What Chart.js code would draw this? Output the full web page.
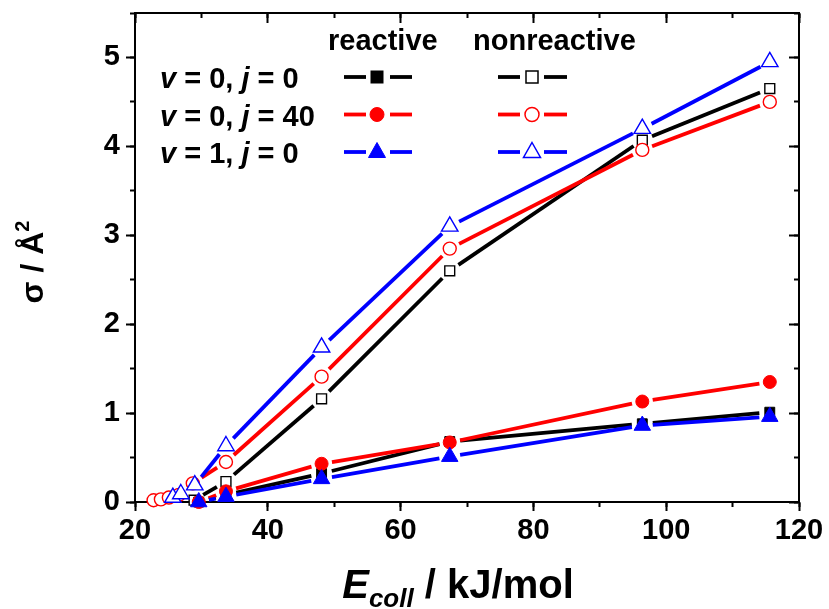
<!DOCTYPE html>
<html><head><meta charset="utf-8">
<script src="https://cdn.jsdelivr.net/npm/chart.js@4"></script>
<style>
html,body{margin:0;padding:0;background:#fff;}
#wrap{position:relative;width:829px;height:609px;overflow:hidden;background:#fff;}
#c{position:absolute;left:0;top:0;}
#ov{position:absolute;left:0;top:0;}
#ov text{font-family:"Liberation Sans",Arial,sans-serif;font-weight:bold;fill:#000;}
</style></head><body>
<div id="wrap">
<canvas id="c" width="829" height="609"></canvas>
<svg id="ov" width="829" height="609" xmlns="http://www.w3.org/2000/svg">
  <!-- legend -->
  <text x="328" y="50" font-size="29">reactive</text>
  <text x="473" y="50" font-size="29">nonreactive</text>
  <text x="160" y="88" font-size="29"><tspan font-style="italic">v</tspan> = 0, <tspan font-style="italic">j</tspan> = 0</text>
  <text x="160" y="125.5" font-size="29"><tspan font-style="italic">v</tspan> = 0, <tspan font-style="italic">j</tspan> = 40</text>
  <text x="160" y="163" font-size="29"><tspan font-style="italic">v</tspan> = 1, <tspan font-style="italic">j</tspan> = 0</text>
  <g stroke-width="3.8" fill="none">
    <line x1="344" y1="77" x2="366" y2="77" stroke="#000"/><line x1="390" y1="77" x2="412" y2="77" stroke="#000"/>
    <rect x="371" y="71" width="12" height="12" fill="#000" stroke="#000" stroke-width="1"/>
    <line x1="498" y1="77" x2="520" y2="77" stroke="#000"/><line x1="544" y1="77" x2="567" y2="77" stroke="#000"/>
    <rect x="526" y="71" width="12" height="12" fill="#fff" stroke="#000" stroke-width="1.5"/>
    <line x1="344" y1="114.5" x2="366" y2="114.5" stroke="#f00"/><line x1="390" y1="114.5" x2="412" y2="114.5" stroke="#f00"/>
    <circle cx="377" cy="114.5" r="7" fill="#f00" stroke="#f00" stroke-width="1"/>
    <line x1="498" y1="114.5" x2="520" y2="114.5" stroke="#f00"/><line x1="544" y1="114.5" x2="567" y2="114.5" stroke="#f00"/>
    <circle cx="532" cy="114.5" r="7" fill="#fff" stroke="#f00" stroke-width="1.5"/>
    <line x1="344" y1="152" x2="366" y2="152" stroke="#00f"/><line x1="390" y1="152" x2="412" y2="152" stroke="#00f"/>
    <polygon points="377,142.5 385.5,157.5 368.5,157.5" fill="#00f" stroke="#00f" stroke-width="1"/>
    <line x1="498" y1="152" x2="520" y2="152" stroke="#00f"/><line x1="544" y1="152" x2="567" y2="152" stroke="#00f"/>
    <polygon points="532,142.5 540.5,157.5 523.5,157.5" fill="#fff" stroke="#00f" stroke-width="1.5"/>
  </g>
  <!-- axis titles -->
  <text x="458" y="598" font-size="40" text-anchor="middle"><tspan font-style="italic">E</tspan><tspan font-style="italic" font-size="26" dy="9">coll</tspan><tspan dy="-9"> / kJ/mol</tspan></text>
  <text transform="translate(43,262) rotate(-90)" font-size="32" text-anchor="middle">σ / Å<tspan font-size="20" dy="-14">2</tspan></text>
</svg>
</div>
<script>
// ---- data ----
const xTickLabels = [20, 40, 60, 80, 100, 120];
const yTickLabels = [0, 1, 2, 3, 4, 5];

// reactive (filled symbols)
const reactV0J0_E  = [29.6, 33.7, 48.1, 67.4, 96.4, 115.6];
const reactV0J0_s  = [0.00, 0.08, 0.32, 0.68, 0.88, 1.01];
const reactV0J40_E = [29.6, 33.7, 48.1, 67.4, 96.4, 115.6];
const reactV0J40_s = [0.00, 0.12, 0.43, 0.67, 1.13, 1.35];
const reactV1J0_E  = [29.6, 33.7, 48.1, 67.4, 96.4, 115.6];
const reactV1J0_s  = [0.00, 0.06, 0.26, 0.51, 0.86, 0.96];

// nonreactive (open symbols)
const nonV0J0_E  = [28.9, 33.7, 48.1, 67.4, 96.4, 115.6];
const nonV0J0_s  = [0.02, 0.23, 1.16, 2.60, 4.07, 4.65];
const nonV0J40_E = [22.8, 23.9, 25.1, 26.6, 28.7, 33.7, 48.1, 67.4, 96.4, 115.6];
const nonV0J40_s = [0.02, 0.03, 0.05, 0.08, 0.21, 0.45, 1.41, 2.85, 3.96, 4.50];
const nonV1J0_E  = [25.7, 26.9, 29.0, 33.7, 48.1, 67.4, 96.4, 115.6];
const nonV1J0_s  = [0.05, 0.09, 0.19, 0.63, 1.74, 3.10, 4.20, 4.95];

// ---- chart ----
const FONT = '"Liberation Sans", Arial, sans-serif';
const BLACK = '#000000', RED = '#ff0000', BLUE = '#0000ff';
const GAP = 10.5;

function gapDash(ctx) {
  const a = ctx.p0, b = ctx.p1;
  const len = Math.hypot(b.x - a.x, b.y - a.y);
  const vis = len - 2 * GAP;
  if (vis <= 0) return [0, len + 100];
  return [0, GAP, vis, len + 100];
}

function series(label, E, s, color, style, filled, radius, order) {
  return {
    label,
    data: E.map((x, i) => ({ x, y: s[i] })),
    borderColor: color,
    borderWidth: 3.8,
    pointStyle: style,
    pointRadius: radius,
    pointHoverRadius: radius,
    pointBackgroundColor: filled ? color : '#ffffff',
    pointBorderColor: color,
    pointBorderWidth: filled ? 1 : 1.4,
    showLine: true,
    fill: false,
    tension: 0,
    clip: false,
    order,
    segment: { borderDash: gapDash }
  };
}

function tickAxis(axisPos, min, max, values, len, border) {
  return {
    type: 'linear', position: axisPos, min, max,
    afterBuildTicks: (sc) => { sc.ticks = values.map(v => ({ value: v })); },
    ticks: { display: false },
    grid: { drawOnChartArea: false, drawTicks: true, tickLength: len, tickWidth: 2, tickColor: BLACK },
    border: { display: border, color: BLACK, width: 2 }
  };
}
const xMinorVals = [20, 30, 40, 50, 60, 70, 80, 90, 100, 110, 120];
const yMinorVals = [0, 0.5, 1, 1.5, 2, 2.5, 3, 3.5, 4, 4.5, 5, 5.5];

const scales = {
  x: {
    type: 'linear', position: 'bottom', min: 20, max: 120,
    afterBuildTicks: (sc) => { sc.ticks = xTickLabels.map(v => ({ value: v })); },
    ticks: { font: { family: FONT, size: 29, weight: 'bold' }, color: BLACK, padding: 3, maxRotation: 0, autoSkip: false },
    grid: { drawOnChartArea: false, tickLength: 9, tickWidth: 2, tickColor: BLACK },
    border: { color: BLACK, width: 2 },
    afterFit: (sc) => { sc.height = 107; sc.paddingLeft = 0; sc.paddingRight = 0; }
  },
  y: {
    type: 'linear', position: 'left', min: 0, max: 5.5,
    afterBuildTicks: (sc) => { sc.ticks = yTickLabels.map(v => ({ value: v })); },
    ticks: { font: { family: FONT, size: 29, weight: 'bold' }, color: BLACK, padding: 6, autoSkip: false },
    grid: { drawOnChartArea: false, tickLength: 9, tickWidth: 2, tickColor: BLACK },
    border: { color: BLACK, width: 2 },
    afterFit: (sc) => { sc.width = 135; sc.paddingTop = 0; sc.paddingBottom = 0; }
  },
  xMinB: tickAxis({ y: 0 }, 20, 120, xMinorVals, 5, false),
  xTopMaj: tickAxis({ y: 5.5 }, 20, 120, xTickLabels, 9, true),
  xTopMin: tickAxis({ y: 5.5 }, 20, 120, xMinorVals, 5, false),
  yMinL: tickAxis({ x: 20 }, 0, 5.5, yMinorVals, 5, false),
  yRMaj: tickAxis({ x: 120 }, 0, 5.5, yTickLabels, 9, true),
  yRMin: tickAxis({ x: 120 }, 0, 5.5, yMinorVals, 5, false)
};

new Chart(document.getElementById('c'), {
  type: 'line',
  data: {
    datasets: [
      series('nonreactive v=0 j=0', nonV0J0_E, nonV0J0_s, BLACK, 'rect', false, 7, 6),
      series('nonreactive v=0 j=40', nonV0J40_E, nonV0J40_s, RED, 'circle', false, 6.5, 5),
      series('nonreactive v=1 j=0', nonV1J0_E, nonV1J0_s, BLUE, 'triangle', false, 9.5, 4),
      series('reactive v=0 j=0', reactV0J0_E, reactV0J0_s, BLACK, 'rect', true, 7, 3),
      series('reactive v=0 j=40', reactV0J40_E, reactV0J40_s, RED, 'circle', true, 6.5, 2),
      series('reactive v=1 j=0', reactV1J0_E, reactV1J0_s, BLUE, 'triangle', true, 9.5, 1)
    ]
  },
  options: {
    responsive: false,
    devicePixelRatio: 1,
    animation: false,
    layout: { padding: { left: 0, top: 13, right: 30, bottom: 0 } },
    plugins: { legend: { display: false }, tooltip: { enabled: false }, title: { display: false } },
    events: [],
    scales
  }
});
</script>
</body></html>
